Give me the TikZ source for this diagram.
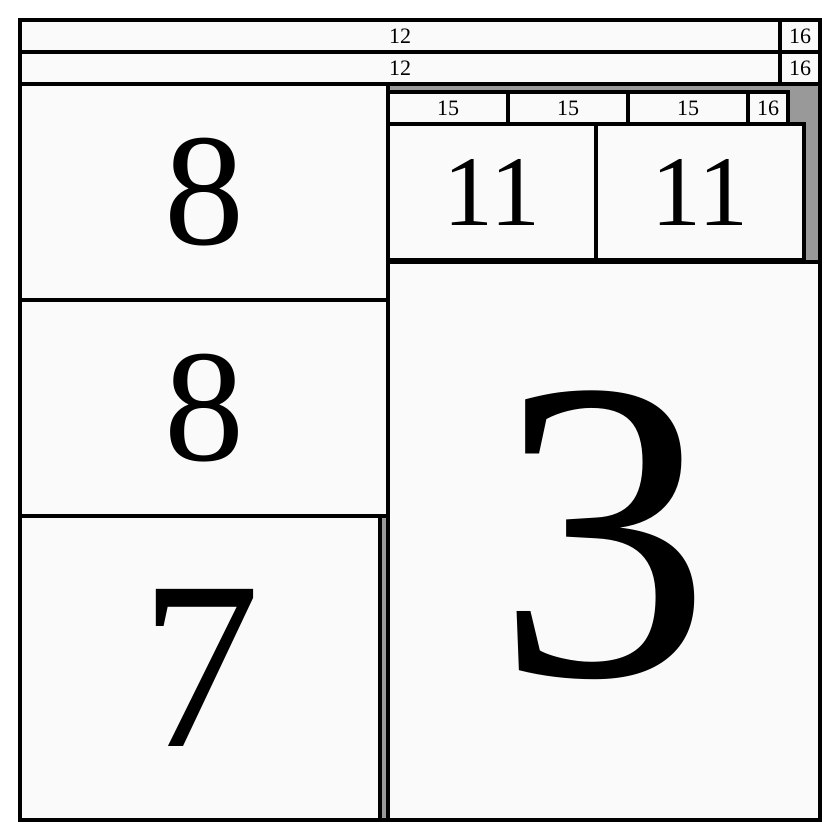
\documentclass[tikz,border=0pt]{standalone}
\usepackage{fontspec}
\setmainfont{Liberation Serif}
\definecolor{boxfill}{HTML}{FAFAFA}
\definecolor{grayfill}{HTML}{999999}
\tikzset{
  cell/.style={draw=black, line width=3.4pt, fill=boxfill, inner sep=0pt, outer sep=0pt},
  grayarea/.style={draw=black, line width=3.4pt, fill=grayfill, inner sep=0pt, outer sep=0pt},
}
\newcommand\rbox[7]{%
  \pgfmathsetmacro\cx{(#3+#5)/2}\pgfmathsetmacro\cy{(#4+#6)/2}%
  \pgfmathsetmacro\ww{#5-#3}\pgfmathsetmacro\hh{#6-#4}%
  \node[#1, minimum width=\ww pt, minimum height=\hh pt] (#2) at (\cx,\cy) {#7};}
\newcommand\fs[2]{\fontsize{#1}{#1}\selectfont #2}
\begin{document}
\begin{tikzpicture}[x=1pt,y=-1pt]
\useasboundingbox[fill=white] (0,0) rectangle (840,840);
% top rows
\rbox{cell}{ta}{20}{20}{780}{52}{\fs{22}{12}}
\rbox{cell}{tb}{780}{20}{820}{52}{\fs{22}{16}}
\rbox{cell}{tc}{20}{52}{780}{84}{\fs{22}{12}}
\rbox{cell}{td}{780}{52}{820}{84}{\fs{22}{16}}
% right upper gray region
\rbox{grayarea}{rg}{388}{84}{820}{262}{}
\rbox{cell}{fa}{388}{92}{508}{124}{\fs{22}{15}}
\rbox{cell}{fb}{508}{92}{628}{124}{\fs{22}{15}}
\rbox{cell}{fc}{628}{92}{748}{124}{\fs{22}{15}}
\rbox{cell}{fd}{748}{92}{788}{124}{\fs{22}{16}}
\rbox{cell}{ea}{388}{124}{596}{260}{\fs{100}{11}}
\rbox{cell}{eb}{596}{124}{804}{260}{\fs{100}{11}}
% big 3
\rbox{cell}{three}{388}{262}{820}{820}{\fs{430}{\raisebox{16pt}{3}}}
% left column
\rbox{cell}{ea8}{20}{84}{388}{300}{\fs{160}{8}}
\rbox{cell}{eb8}{20}{300}{388}{516}{\fs{160}{8}}
\rbox{grayarea}{lg}{20}{516}{388}{820}{}
\rbox{cell}{seven}{20}{516}{380}{820}{\fs{240}{7}}
\end{tikzpicture}
\end{document}
